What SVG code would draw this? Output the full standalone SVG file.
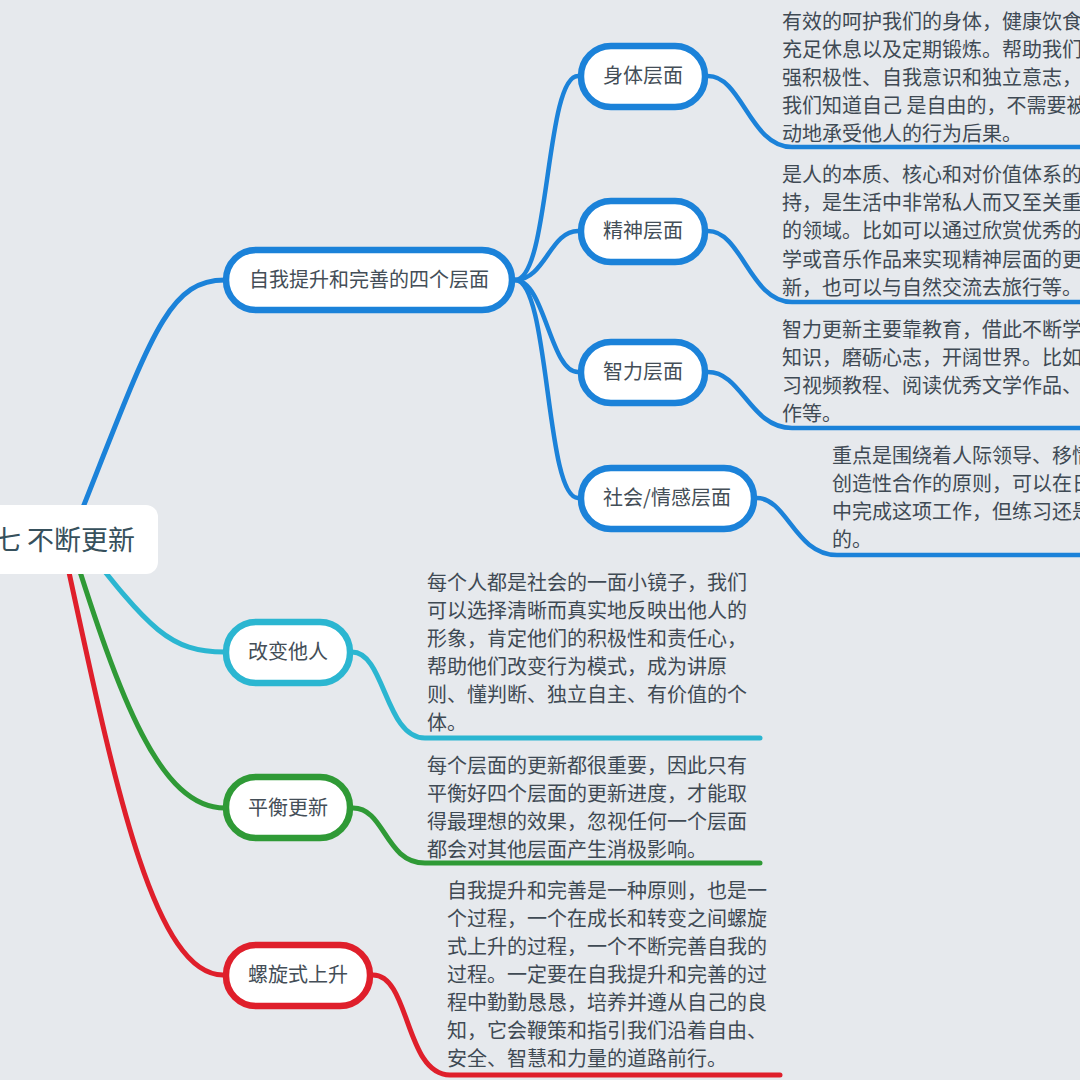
<svg xmlns="http://www.w3.org/2000/svg" width="1080" height="1080" viewBox="0 0 1080 1080">
<style>
.bg{fill:#E6E9ED}
.lbl{font-family:"Noto Sans CJK SC","Noto Sans",sans-serif;font-size:20px;fill:#444e57;text-anchor:middle}
.note{font-family:"Noto Sans CJK SC","Noto Sans",sans-serif;font-size:20px;fill:#3f4a54}
.node{fill:#ffffff;stroke-width:6.5}
.c{fill:none;stroke-linecap:round;stroke-linejoin:round}
.blue{stroke:#1b82d9}
.cyan{stroke:#2bb6d1}
.green{stroke:#2f9a36}
.red{stroke:#df1f2b}
</style>
<rect class="bg" x="0" y="0" width="1080" height="1080"/>
<g id="connectors">
  <path class="c blue" stroke-width="5" d="M70,540 C150,340 165,280 225,280"/>
  <path class="c cyan" stroke-width="5" d="M80,540 C150,630 170,652 225,652"/>
  <path class="c green" stroke-width="5" d="M70,540 C120,700 160,808 225,808"/>
  <path class="c red" stroke-width="5" d="M62,540 C110,760 150,975 223,975"/>
  <path class="c blue" stroke-width="4.5" d="M515,280 C550,280 545,76 578,76"/>
  <path class="c blue" stroke-width="4.5" d="M515,280 C545,280 550,231 578,231"/>
  <path class="c blue" stroke-width="4.5" d="M515,280 C545,280 550,372 578,372"/>
  <path class="c blue" stroke-width="4.5" d="M515,280 C550,280 545,498 578,498"/>
  <path class="c blue" stroke-width="4.5" d="M708,76 C742,76 750,147 792,147 L1085,147"/>
  <path class="c blue" stroke-width="4.5" d="M708,231 C742,231 750,302 792,302 L1085,302"/>
  <path class="c blue" stroke-width="4.5" d="M708,372 C742,372 750,428 792,428 L1085,428"/>
  <path class="c blue" stroke-width="4.5" d="M757,498 C787,498 795,555 837,555 L1085,555"/>
  <path class="c cyan" stroke-width="5" d="M352,652 C385,652 385,738 425,738 L760,738"/>
  <path class="c green" stroke-width="5" d="M353,808 C385,808 385,863 425,863 L760,863"/>
  <path class="c red" stroke-width="5" d="M373,975 C410,975 405,1075 450,1075 L780,1075"/>
</g>
<g id="root">
  <rect x="-20" y="505" width="178" height="69" rx="12" fill="#ffffff"/>
  <text x="-6" y="550" font-family="'Noto Sans CJK SC','Noto Sans',sans-serif" font-size="27" fill="#36505c">七 不断更新</text>
</g>
<g id="n-four">
  <rect class="node blue" x="226" y="250" width="286" height="60" rx="30"/>
  <text class="lbl" x="369" y="287">自我提升和完善的四个层面</text>
</g>
<g id="n-body">
  <rect class="node blue" x="581" y="46" width="124" height="61" rx="30"/>
  <text class="lbl" x="643" y="83">身体层面</text>
  <text class="note" x="782"><tspan x="782" y="29">有效的呵护我们的身体，健康饮食</tspan><tspan x="782" y="57">充足休息以及定期锻炼。帮助我们</tspan><tspan x="782" y="85">强积极性、自我意识和独立意志，</tspan><tspan x="782" y="113">我们知道自己 是自由的，不需要被</tspan><tspan x="782" y="141">动地承受他人的行为后果。</tspan></text>
</g>
<g id="n-spirit">
  <rect class="node blue" x="581" y="201" width="124" height="61" rx="30"/>
  <text class="lbl" x="643" y="238">精神层面</text>
  <text class="note"><tspan x="782" y="182">是人的本质、核心和对价值体系的</tspan><tspan x="782" y="210">持，是生活中非常私人而又至关重</tspan><tspan x="782" y="238">的领域。比如可以通过欣赏优秀的</tspan><tspan x="782" y="267">学或音乐作品来实现精神层面的更</tspan><tspan x="782" y="295">新，也可以与自然交流去旅行等。</tspan></text>
</g>
<g id="n-intellect">
  <rect class="node blue" x="581" y="342" width="124" height="61" rx="30"/>
  <text class="lbl" x="643" y="379">智力层面</text>
  <text class="note"><tspan x="782" y="337">智力更新主要靠教育，借此不断学</tspan><tspan x="782" y="365">知识，磨砺心志，开阔世界。比如</tspan><tspan x="782" y="393">习视频教程、阅读优秀文学作品、</tspan><tspan x="782" y="421">作等。</tspan></text>
</g>
<g id="n-social">
  <rect class="node blue" x="581" y="468" width="173" height="61" rx="30"/>
  <text class="lbl" x="667" y="505">社会/情感层面</text>
  <text class="note"><tspan x="832" y="463">重点是围绕着人际领导、移情</tspan><tspan x="832" y="491">创造性合作的原则，可以在日</tspan><tspan x="832" y="519">中完成这项工作，但练习还是</tspan><tspan x="832" y="547">的。</tspan></text>
</g>
<g id="n-others">
  <rect class="node cyan" x="226" y="622" width="124" height="61" rx="30"/>
  <text class="lbl" x="288" y="659">改变他人</text>
  <text class="note"><tspan x="427" y="590">每个人都是社会的一面小镜子，我们</tspan><tspan x="427" y="618">可以选择清晰而真实地反映出他人的</tspan><tspan x="427" y="646">形象，肯定他们的积极性和责任心，</tspan><tspan x="427" y="674">帮助他们改变行为模式，成为讲原</tspan><tspan x="427" y="702">则、懂判断、独立自主、有价值的个</tspan><tspan x="427" y="730">体。</tspan></text>
</g>
<g id="n-balance">
  <rect class="node green" x="226" y="777" width="124" height="61" rx="30"/>
  <text class="lbl" x="288" y="815">平衡更新</text>
  <text class="note"><tspan x="427" y="773">每个层面的更新都很重要，因此只有</tspan><tspan x="427" y="801">平衡好四个层面的更新进度，才能取</tspan><tspan x="427" y="829">得最理想的效果，忽视任何一个层面</tspan><tspan x="427" y="857">都会对其他层面产生消极影响。</tspan></text>
</g>
<g id="n-spiral">
  <rect class="node red" x="226" y="945" width="144" height="61" rx="30"/>
  <text class="lbl" x="298" y="982">螺旋式上升</text>
  <text class="note"><tspan x="447" y="898">自我提升和完善是一种原则，也是一</tspan><tspan x="447" y="926">个过程，一个在成长和转变之间螺旋</tspan><tspan x="447" y="954">式上升的过程，一个不断完善自我的</tspan><tspan x="447" y="982">过程。一定要在自我提升和完善的过</tspan><tspan x="447" y="1010">程中勤勤恳恳，培养并遵从自己的良</tspan><tspan x="447" y="1038">知，它会鞭策和指引我们沿着自由、</tspan><tspan x="447" y="1066">安全、智慧和力量的道路前行。</tspan></text>
</g>
</svg>
